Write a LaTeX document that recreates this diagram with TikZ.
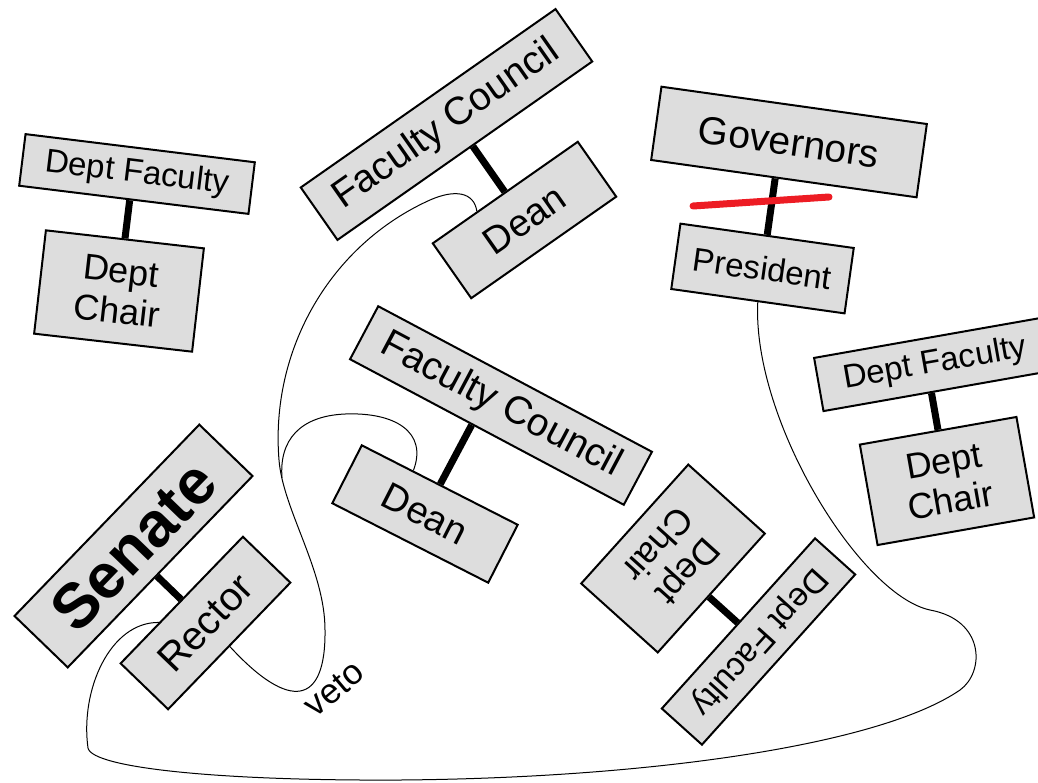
\documentclass[tikz,border=0pt]{standalone}
\usepackage{fontspec}
\setmainfont{Liberation Sans}
\definecolor{boxgray}{RGB}{221,221,221}
\definecolor{vetored}{RGB}{237,28,36}
\usetikzlibrary{calc}

\begin{document}
\begin{tikzpicture}[x=1pt, y=-1pt,
    box/.style={draw, fill=boxgray, line width=2pt, inner sep=0pt, align=center},
    link/.style={line width=7pt},
    wire/.style={line width=1pt},
    strike/.style={draw=vetored, line width=7pt, line cap=round}]
    \useasboundingbox (0,0) rectangle (1038,782);

    % departments
    \node[box, minimum width=231pt, minimum height=52pt, rotate=-7, font=\fontsize{33}{40}\selectfont] (df1) at (137,174) {Dept Faculty};
    \node[box, minimum width=159pt, minimum height=104pt, rotate=-6.5, font=\fontsize{36}{40}\selectfont] (dc1) at (119,291) {Dept\\Chair};
    \node[box, minimum width=236pt, minimum height=54pt, rotate=10, font=\fontsize{33}{40}\selectfont] (df2) at (935,364) {Dept Faculty};
    \node[box, minimum width=159pt, minimum height=102pt, rotate=10, font=\fontsize{36}{40}\selectfont] (dc2) at (947,481) {Dept\\Chair};
    \node[box, minimum width=160pt, minimum height=103pt, rotate=-132, font=\fontsize{36}{40}\selectfont] (dc3) at (673,558.5) {Dept\\Chair};
    \node[box, minimum width=229pt, minimum height=54pt, rotate=-132, font=\fontsize{33}{40}\selectfont] (df3) at (758.5,641.5) {Dept Faculty};

    % faculties
    \node[box, minimum width=311pt, minimum height=64pt, rotate=35, font=\fontsize{39}{40}\selectfont] (fc1) at (446.5,124.5) {Faculty Council};
    \node[box, minimum width=177pt, minimum height=67pt, rotate=35, font=\fontsize{38}{40}\selectfont] (dean1) at (524.5,220) {Dean};
    \node[box, minimum width=310pt, minimum height=60pt, rotate=-28, font=\fontsize{39}{40}\selectfont] (fc2) at (501,405.5) {Faculty Council};
    \node[box, minimum width=175pt, minimum height=65pt, rotate=-27, font=\fontsize{38}{40}\selectfont] (dean2) at (425,514) {Dean};

    % university
    \node[box, minimum width=268pt, minimum height=74pt, rotate=-8, font=\fontsize{39}{40}\selectfont] (gov) at (789,142) {Governors};
    \node[box, minimum width=175pt, minimum height=66pt, rotate=-8, font=\fontsize{33}{40}\selectfont] (pres) at (762.5,268.5) {President};
    \node[box, minimum width=266pt, minimum height=74pt, rotate=46, font=\fontsize{63}{70}\selectfont\bfseries] (senate) at (133.5,546) {Senate};
    \node[box, minimum width=176pt, minimum height=66pt, rotate=46, font=\fontsize{40}{40}\selectfont] (rector) at (205.5,623) {Rector};
    \node[rotate=40, font=\fontsize{35}{36}\selectfont] (veto) at (334,689) {veto};

    \draw[link] (dc1.north) -- ($(df1.south west)!(dc1.north)!(df1.south east)$);
    \draw[link] (dc2.north) -- ($(df2.south west)!(dc2.north)!(df2.south east)$);
    \draw[link] (df3.south) -- ($(dc3.north west)!(df3.south)!(dc3.north east)$);
    \draw[link] (dean1.north) -- ($(fc1.south west)!(dean1.north)!(fc1.south east)$);
    \draw[link] (dean2.north) -- ($(fc2.south west)!(dean2.north)!(fc2.south east)$);
    \draw[link] (pres.north) -- ($(gov.south west)!(pres.north)!(gov.south east)$);
    \draw[link] (rector.north) -- ($(senate.south west)!(rector.north)!(senate.south east)$);
    \draw[strike] (693,206) -- (829,197);

    % curvy lines
    \draw[wire] ($(dean1.north west)!0.31!(dean1.north east)$) .. controls (474,192) and (455,189) .. (430,200)
        .. controls (330,245) and (270,350) .. (279,460) .. controls (283,510) and (325,570) .. (325,630)
        .. controls (326,705) and (290,712) .. (rector.south);
    \draw[wire] ($(dean2.north west)!0.33!(dean2.north east)$) .. controls (428,432) and (395,412) .. (345,414)
        .. controls (300,416) and (279,440) .. (282,478);
    \draw[wire] ($(rector.north west)!0.32!(rector.north east)$) .. controls (110,622) and (80,690) .. (88,748)
        .. controls (92,768) and (220,781) .. (400,780) .. controls (650,778) and (880,745) .. (960,690)
        .. controls (985,672) and (985,620) .. (930,610) .. controls (860,595) and (752,420) .. (pres.south);
\end{tikzpicture}
\end{document}
